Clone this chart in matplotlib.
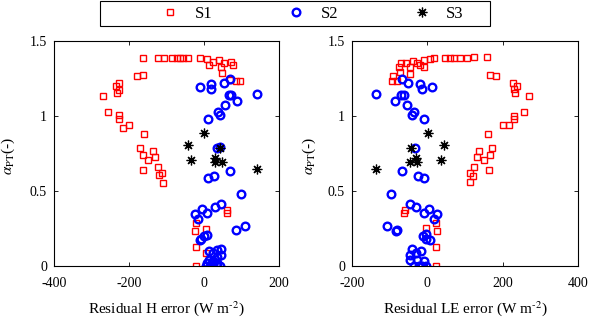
import numpy as np
import matplotlib.pyplot as plt
from matplotlib.lines import Line2D
from matplotlib.patches import Rectangle

plt.rcParams["font.family"] = ["Liberation Serif", "DejaVu Serif"]
plt.rcParams["mathtext.fontset"] = "stix"

# ──────────────────────────────────────────────
# Data
# ──────────────────────────────────────────────

# left panel: residual H error
h_s1_x = [-162, -124, -106, -85, -73, -64, -57, -44, -12, 7, 25, 41, 52, 71, 76, 12, 46, 47,
          68, 84, 96, -180, -164, -236, -226, -226, -231, -270, -255, -228, -228, -215, -199,
          -159, -171, -164, -135, -149, -132, -162, -124, -120, -113, -110, 60, 62, -22, -23,
          5, -21, 4, -21]
h_s1_y = [1.39, 1.39, 1.39, 1.39, 1.39, 1.384, 1.39, 1.387, 1.387, 1.382, 1.36, 1.373, 1.351,
          1.36, 1.338, 1.338, 1.324, 1.284, 1.24, 1.236, 1.236, 1.267, 1.276, 1.2, 1.222, 1.173,
          1.151, 1.133, 1.027, 1.004, 0.978, 0.92, 0.938, 0.878, 0.787, 0.742, 0.764, 0.707,
          0.724, 0.64, 0.658, 0.604, 0.618, 0.556, 0.373, 0.351, 0.289, 0.231, 0.249, 0.124,
          0.084, 0.0]

h_s2_x = [-11, 18, 18, 52, 68, 66, 73, 89, 140, 55, 36, 43, 11, 34, 43, 11, 27, 68, 98, -23,
          -5, 7, -16, 28, 46, -7, 0, 7, -11, 84, 108, 14, 25, 34, 44, 46, 12, 25, 34, 5, 16, 25,
          34, 43, 7, 20, 34]
h_s2_y = [1.196, 1.213, 1.182, 1.218, 1.249, 1.138, 1.138, 1.098, 1.147, 1.071, 1.027, 1.004,
          0.982, 0.787, 0.791, 0.587, 0.6, 0.631, 0.48, 0.347, 0.382, 0.356, 0.316, 0.396, 0.413,
          0.182, 0.2, 0.204, 0.173, 0.24, 0.267, 0.098, 0.089, 0.107, 0.111, 0.071, 0.04, 0.036,
          0.062, 0.0, 0.0, 0.0, 0.0, 0.0, 0.018, 0.018, 0.022]

h_s3_x = [0, -43, -34, 43, 30, 28, 48, 140]
h_s3_y = [0.884, 0.804, 0.707, 0.787, 0.72, 0.693, 0.693, 0.644]

# right panel: residual LE error
le_s1_x = [-92, -72, -70, -74, -56, -47, -45, -38, -28, -20, -8, -10, 8, 17, 47, 61, 70, 86,
           106, 124, 159, 166, 182, 228, 230, 239, 232, 271, 257, 230, 230, 217, 200, 161, 172,
           136, 166, 150, 132, 124, 113, 120, 113, 164, -60, -61, 24, 26, -3, 22, 22, -80, -95]
le_s1_y = [1.267, 1.293, 1.351, 1.329, 1.351, 1.28, 1.324, 1.369, 1.356, 1.342, 1.373, 1.329,
           1.382, 1.387, 1.387, 1.387, 1.387, 1.387, 1.387, 1.391, 1.391, 1.271, 1.267, 1.218,
           1.182, 1.2, 1.156, 1.133, 1.027, 1.0, 0.978, 0.938, 0.942, 0.88, 0.787, 0.764, 0.742,
           0.707, 0.729, 0.658, 0.622, 0.6, 0.56, 0.64, 0.373, 0.356, 0.289, 0.231, 0.253,
           0.124, 0.0, 1.236, 1.236]

le_s2_x = [-67, -51, -19, -15, 13, -136, -86, -70, -61, -54, -42, -35, -10, -33, -67, -26, -8,
           -97, -47, -29, -10, 4, 17, 26, -106, -81, -84, -12, -3, 8, -4, -40, -45, -29, -17,
           -10, -45, -28, -35, -22, -13, -4]
le_s2_y = [1.249, 1.218, 1.213, 1.182, 1.196, 1.147, 1.098, 1.138, 1.138, 1.071, 1.004, 1.027,
           0.982, 0.787, 0.631, 0.6, 0.587, 0.48, 0.413, 0.396, 0.356, 0.382, 0.316, 0.347,
           0.267, 0.24, 0.231, 0.2, 0.182, 0.173, 0.213, 0.111, 0.071, 0.089, 0.098, 0.036,
           0.04, 0.04, 0.0, 0.0, 0.0, 0.0]

le_s3_x = [1, 44, -44, -31, -47, -28, 35, -136]
le_s3_y = [0.884, 0.804, 0.787, 0.72, 0.693, 0.693, 0.707, 0.644]

series_labels = ["S1", "S2", "S3"]

# ──────────────────────────────────────────────
# Styles
# ──────────────────────────────────────────────
S1_STYLE = dict(marker="s", ms=4.5, mfc="none", mec="#ff0000", mew=1.0, ls="none")
S2_STYLE = dict(marker="o", ms=5.5, mfc="none", mec="#0000ff", mew=1.7, ls="none")
S3_STYLE = dict(marker=(8, 2, 0), ms=7, mfc="none", mec="black", mew=0.9, ls="none")

W, H = 590, 317


def draw_panel(ax, s1, s2, s3, xlim, xticks, xlabel, ylab_x):
    ax.plot(*s1, **S1_STYLE)
    ax.plot(*s2, **S2_STYLE)
    ax.plot(*s3, **S3_STYLE)
    ax.set_xlim(xlim)
    ax.set_ylim(0, 1.5)
    ax.set_xticks(xticks)
    ax.set_xticklabels([str(t) for t in xticks])
    ax.set_yticks([0, 0.5, 1, 1.5])
    ax.set_yticklabels(["0", "0.5", "1", "1.5"])
    ax.tick_params(direction="in", top=True, right=True, length=3, width=0.6,
                   labelsize=10)
    ax.tick_params(axis="x", pad=8)
    ax.tick_params(axis="y", pad=5)
    for sp in ax.spines.values():
        sp.set_linewidth(0.8)
    ax.set_xlabel(xlabel, fontsize=11)
    ax.xaxis.set_label_coords(0.5, -0.145)
    ax.set_ylabel(r"$\alpha_{\rm PT}$(-)", fontsize=11)
    ax.yaxis.set_label_coords(ylab_x, 0.49)


fig = plt.figure(figsize=(W / 100, H / 100), dpi=100)
ax1 = fig.add_axes([54 / W, 51 / H, 225 / W, 225 / H])
ax2 = fig.add_axes([352 / W, 51 / H, 226 / W, 225 / H])

draw_panel(ax1, (h_s1_x, h_s1_y), (h_s2_x, h_s2_y), (h_s3_x, h_s3_y),
           (-400, 200), [-400, -200, 0, 200], r"Residual H error (W m$^{\text{-}2}$)", -0.163)
draw_panel(ax2, (le_s1_x, le_s1_y), (le_s2_x, le_s2_y), (le_s3_x, le_s3_y),
           (-200, 400), [-200, 0, 200, 400], r"Residual LE error (W m$^{\text{-}2}$)", -0.15)

# legend: frameless entries inside a drawn box
handles = [Line2D([], [], **S1_STYLE), Line2D([], [], **S2_STYLE), Line2D([], [], **S3_STYLE)]
fig.legend(handles, series_labels, ncol=3, loc="center left",
           bbox_to_anchor=(162 / W, (H - 14) / H), fontsize=12, frameon=False,
           borderpad=0, borderaxespad=0, handlelength=1.0, handletextpad=0.95,
           columnspacing=4.55)
fig.add_artist(Rectangle((100 / W, (H - 26) / H), 390 / W, 25 / H, transform=fig.transFigure,
                         fill=False, edgecolor="black", linewidth=0.8))

fig.savefig("out.png", dpi=100)
